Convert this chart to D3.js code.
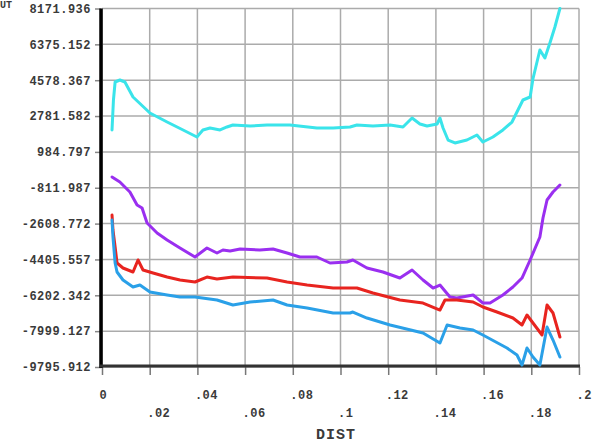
<!DOCTYPE html>
<html>
<head>
<meta charset="utf-8">
<script src="https://cdn.jsdelivr.net/npm/d3@7/dist/d3.min.js"></script>
<style>
  body { margin: 0; background: #fff; }
  svg { display: block; }
  .lbl { font-family: "Liberation Mono", "DejaVu Sans Mono", monospace; font-weight: bold; fill: #3a3a3a; }
</style>
</head>
<body>
<svg id="chart"></svg>
<script>
// tick values + labels
const yTicks = [8171.936, 6375.152, 4578.367, 2781.582, 984.797, -811.987, -2608.772, -4405.557, -6202.342, -7999.127, -9795.912];
const yTickLabels = ["8171.936", "6375.152", "4578.367", "2781.582", "984.797", "-811.987", "-2608.772", "-4405.557", "-6202.342", "-7999.127", "-9795.912"];
const xTicks = [0, 0.02, 0.04, 0.06, 0.08, 0.1, 0.12, 0.14, 0.16, 0.18, 0.2];
const xTickLabels = ["0", ".02", ".04", ".06", ".08", ".1", ".12", ".14", ".16", ".18", ".2"];

// series, [DIST, value]
const cyan = [[0.0042, 2083], [0.0048, 3586], [0.0055, 4488], [0.0075, 4588], [0.0096, 4488], [0.0130, 3736], [0.0201, 2934], [0.0273, 2483], [0.0340, 2083], [0.0398, 1732], [0.0423, 2083], [0.0453, 2183], [0.0495, 2083], [0.0524, 2233], [0.0549, 2333], [0.0621, 2283], [0.0692, 2333], [0.0788, 2333], [0.0901, 2183], [0.0969, 2183], [0.1040, 2233], [0.1069, 2333], [0.1136, 2283], [0.1208, 2333], [0.1262, 2233], [0.1300, 2684], [0.1333, 2383], [0.1363, 2283], [0.1405, 2383], [0.1417, 2684], [0.1430, 2183], [0.1451, 1581], [0.1480, 1431], [0.1530, 1581], [0.1572, 1832], [0.1597, 1481], [0.1639, 1732], [0.1681, 2083], [0.1719, 2483], [0.1744, 3085], [0.1765, 3586], [0.1795, 3736], [0.1807, 4650], [0.1836, 6092], [0.1857, 5691], [0.1878, 6443], [0.1899, 7245], [0.1920, 8172]];
const purple = [[0.0042, -273], [0.0075, -524], [0.0117, -1025], [0.0147, -1677], [0.0168, -1827], [0.0189, -2579], [0.0231, -3080], [0.0273, -3431], [0.0327, -3832], [0.0390, -4283], [0.0440, -3832], [0.0482, -4082], [0.0507, -3932], [0.0537, -3982], [0.0579, -3882], [0.0662, -3932], [0.0717, -3882], [0.0776, -4082], [0.0830, -4283], [0.0901, -4283], [0.0956, -4584], [0.1027, -4533], [0.1052, -4433], [0.1111, -4834], [0.1178, -5035], [0.1249, -5336], [0.1300, -4935], [0.1346, -5436], [0.1388, -5837], [0.1417, -5687], [0.1459, -6288], [0.1488, -6338], [0.1556, -6188], [0.1597, -6589], [0.1627, -6589], [0.1681, -6188], [0.1723, -5787], [0.1761, -5336], [0.1795, -4433], [0.1836, -3280], [0.1849, -2328], [0.1866, -1426], [0.1891, -1025], [0.1920, -674]];
const red = [[0.0042, -2178], [0.0046, -2930], [0.0055, -3782], [0.0063, -4584], [0.0088, -4834], [0.0130, -5035], [0.0151, -4433], [0.0172, -4935], [0.0214, -5085], [0.0273, -5286], [0.0327, -5436], [0.0390, -5536], [0.0440, -5286], [0.0482, -5386], [0.0549, -5286], [0.0692, -5336], [0.0776, -5536], [0.0860, -5687], [0.0969, -5837], [0.1040, -5837], [0.1069, -5837], [0.1136, -6088], [0.1249, -6438], [0.1346, -6589], [0.1417, -6940], [0.1438, -6438], [0.1488, -6438], [0.1556, -6539], [0.1597, -6789], [0.1656, -7040], [0.1723, -7341], [0.1761, -7692], [0.1782, -7190], [0.1807, -7591], [0.1845, -8193], [0.1866, -6689], [0.1891, -7090], [0.1920, -8293]];
const blue = [[0.0042, -2428], [0.0046, -3280], [0.0055, -4584], [0.0063, -5035], [0.0088, -5436], [0.0130, -5787], [0.0159, -5687], [0.0201, -6037], [0.0273, -6188], [0.0327, -6288], [0.0390, -6288], [0.0482, -6438], [0.0549, -6689], [0.0621, -6539], [0.0717, -6438], [0.0776, -6689], [0.0860, -6839], [0.0969, -7090], [0.1040, -7090], [0.1052, -7040], [0.1111, -7341], [0.1208, -7692], [0.1346, -8092], [0.1417, -8594], [0.1447, -7692], [0.1501, -7842], [0.1556, -7942], [0.1597, -8193], [0.1698, -8845], [0.1740, -9196], [0.1761, -9697], [0.1782, -8845], [0.1807, -9296], [0.1836, -9697], [0.1866, -7792], [0.1891, -8443], [0.1920, -9296]];

const series = [
    {data: cyan, color: "#3ae4ea"},
    {data: purple, color: "#9a2ff0"},
    {data: red, color: "#e8241f"},
    {data: blue, color: "#2aa0e8"}
];

const W = 594, H = 443;
const margin = {left: 102, right: 579, top: 8.5, bottom: 367};

const svg = d3.select("#chart").attr("width", W).attr("height", H);

const x = d3.scaleLinear().domain([0, 0.2]).range([margin.left, margin.right]);
const y = d3.scaleLinear().domain([-9795.912, 8171.936]).range([margin.bottom, margin.top]);

// grid
const grid = svg.append("g");
grid.selectAll("line.v").data(xTicks).enter().append("line")
    .attr("x1", d => x(d)).attr("x2", d => x(d))
    .attr("y1", margin.top).attr("y2", margin.bottom)
    .attr("stroke", "#ababab").attr("stroke-width", 1.5);
grid.selectAll("line.h").data(yTicks).enter().append("line")
    .attr("x1", margin.left).attr("x2", margin.right)
    .attr("y1", d => y(d)).attr("y2", d => y(d))
    .attr("stroke", "#ababab").attr("stroke-width", 1.5);

// y axis
const yAxis = d3.axisLeft(y).tickValues(yTicks)
    .tickFormat((d, i) => yTickLabels[i])
    .tickSize(6).tickPadding(4);
const gy = svg.append("g").attr("transform", "translate(" + (margin.left - 1) + ",0)").call(yAxis);
gy.select(".domain").remove();
gy.selectAll("line").attr("stroke", "#888").attr("stroke-width", 1.5);
gy.selectAll("text").attr("class", "lbl").style("font-size", "12px").style("letter-spacing", "0.5px");

// x axis
const xAxis = d3.axisBottom(x).tickValues(xTicks)
    .tickFormat((d, i) => xTickLabels[i])
    .tickSize(8);
const gx = svg.append("g").attr("transform", "translate(0," + margin.bottom + ")").call(xAxis);
gx.select(".domain").remove();
gx.selectAll("line").attr("stroke", "#777").attr("stroke-width", 1.5);
gx.selectAll("text").attr("class", "lbl").style("font-size", "12px").style("letter-spacing", "0.5px")
    .attr("text-anchor", "start")
    .attr("dx", -3)
    .attr("y", (d, i) => i % 2 === 0 ? 32 : 50)
    .attr("dy", null);

// axis frame lines
svg.append("line").attr("x1", margin.left - 1).attr("x2", margin.left - 1).attr("y1", margin.top).attr("y2", margin.bottom + 1)
    .attr("stroke", "#000").attr("stroke-width", 3.5);
svg.append("line").attr("x1", margin.left - 2).attr("x2", margin.right + 1).attr("y1", margin.bottom - 1).attr("y2", margin.bottom - 1)
    .attr("stroke", "#333").attr("stroke-width", 3);

// curves
const line = d3.line().x(d => x(d[0])).y(d => y(d[1]));
svg.append("g").selectAll("path").data(series).enter().append("path")
    .attr("d", d => line(d.data))
    .attr("fill", "none")
    .attr("stroke", d => d.color)
    .attr("stroke-width", 3)
    .attr("stroke-linejoin", "round")
    .attr("stroke-linecap", "round");

// titles
svg.append("text").attr("class", "lbl").attr("x", 336).attr("y", 439)
    .attr("text-anchor", "middle").style("font-size", "15px").style("letter-spacing", "1px")
    .text("DIST");
svg.append("text").attr("class", "lbl").attr("x", 0).attr("y", 8)
    .style("font-size", "10px").text("UT");
</script>
</body>
</html>
